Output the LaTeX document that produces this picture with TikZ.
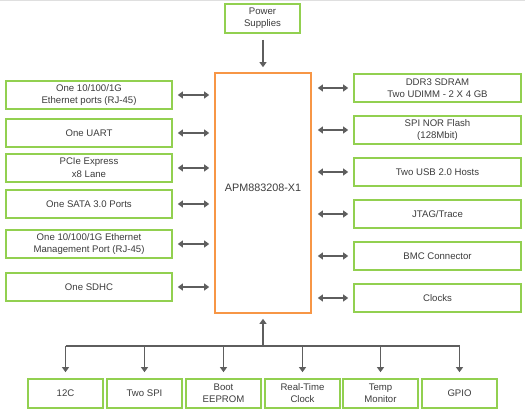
\documentclass[tikz,border=0pt]{standalone}
\usepackage{fontspec}
\setmainfont{Liberation Sans}
\usetikzlibrary{arrows.meta}
\definecolor{gbord}{HTML}{92D050}
\definecolor{obord}{HTML}{F79646}
\definecolor{arrg}{HTML}{5E5E5E}
\definecolor{txtg}{HTML}{3C3C3C}
\tikzset{
  gbox/.style={draw=gbord, line width=1.7pt, fill=white, minimum width=166pt, minimum height=28pt,
    inner sep=1pt, align=center, text=txtg, font=\fontsize{9.6}{12}\selectfont},
  bbox/.style={gbox, minimum width=75pt, minimum height=29pt},
  cbox/.style={draw=obord, line width=1.7pt, minimum width=96pt, minimum height=240pt,
    align=center, text=txtg, font=\fontsize{10.8}{13}\selectfont},
  conn/.style={draw=arrg, line width=1.6pt},
  dar/.style={conn, {Triangle[length=5pt,width=7pt]}-{Triangle[length=5pt,width=7pt]}},
  sar/.style={conn, -{Triangle[length=5pt,width=7pt]}},
}
\begin{document}
\begin{tikzpicture}[x=1pt,y=-1pt]
\useasboundingbox (0,0) rectangle (525,409);
\draw[gray!25, line width=0.8pt] (0,0.5) -- (525,0.5);

\node[cbox] (c) at (263,193) {\raisebox{10pt}{APM883208-X1}};
\node[bbox] (pw) at (262.5,18.5) {Power\\Supplies};

\node[gbox] (l1) at (89,95) {One 10/100/1G\\Ethernet ports (RJ-45)};
\node[gbox] (l2) at (89,133) {One UART};
\node[gbox] (l3) at (89,168) {PCIe Express\\[1pt]x8 Lane};
\node[gbox] (l4) at (89,204) {One SATA 3.0 Ports};
\node[gbox] (l5) at (89,244) {One 10/100/1G Ethernet\\Management Port (RJ-45)};
\node[gbox] (l6) at (89,287) {One SDHC};

\node[gbox, minimum width=167pt] (r1) at (437.5,88) {DDR3 SDRAM\\Two UDIMM - 2 X 4 GB};
\node[gbox, minimum width=167pt] (r2) at (437.5,130) {SPI NOR Flash\\(128Mbit)};
\node[gbox, minimum width=167pt] (r3) at (437.5,172) {Two USB 2.0 Hosts};
\node[gbox, minimum width=167pt] (r4) at (437.5,214) {JTAG/Trace};
\node[gbox, minimum width=167pt] (r5) at (437.5,256) {BMC Connector};
\node[gbox, minimum width=167pt] (r6) at (437.5,298) {Clocks};

\node[bbox] (b1) at (65.5,393.5) {12C};
\node[bbox] (b2) at (144.5,393.5) {Two SPI};
\node[bbox] (b3) at (223.5,393.5) {Boot\\EEPROM};
\node[bbox] (b4) at (302.5,393.5) {Real-Time\\Clock};
\node[bbox] (b5) at (380.5,393.5) {Temp\\Monitor};
\node[bbox] (b6) at (459.5,393.5) {GPIO};

\draw[sar, shorten <=6pt, shorten >=5pt] (pw.south -| c.north) -- (c.north);

\foreach \n in {l1,l2,l3,l4,l5,l6}
  \draw[dar, shorten <=5pt, shorten >=5pt] (\n.east) -- (\n.east -| c.west);
\foreach \n in {r1,r2,r3,r4,r5,r6}
  \draw[dar, shorten <=6pt, shorten >=5pt] (\n.west -| c.east) -- (\n.west);

\coordinate (bus) at (263,346);
\draw[conn] (b1.north |- bus) -- (b6.north |- bus);
\draw[sar, shorten >=5pt] (bus) -- (c.south);
\foreach \n in {b1,b2,b3,b4,b5,b6}
  \draw[sar, shorten >=6pt] (\n.north |- bus) -- (\n.north);
\end{tikzpicture}
\end{document}
